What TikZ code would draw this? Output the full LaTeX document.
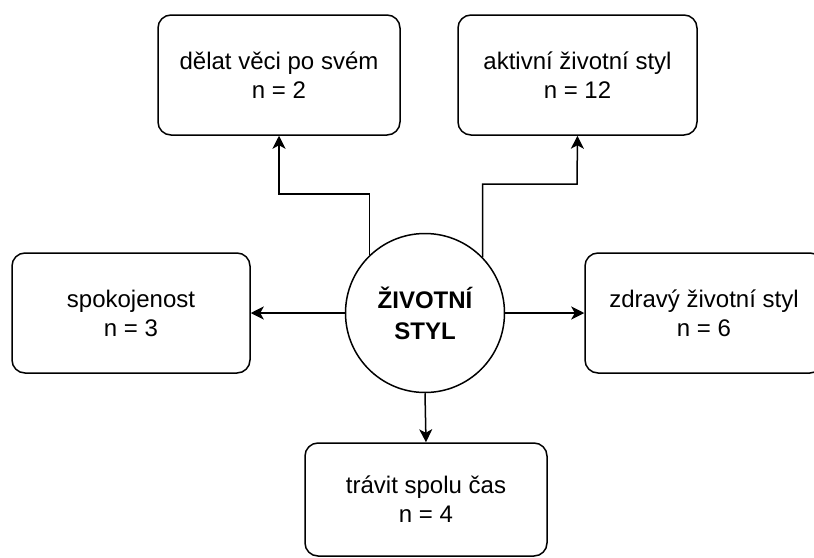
\documentclass[tikz,border=0pt]{standalone}
\usepackage{fontspec}
\setmainfont{Liberation Sans}
\usetikzlibrary{arrows.meta}
\begin{document}
\begin{tikzpicture}[x=1pt,y=-1pt,
  box/.style={draw, line width=1.5pt, rounded corners=13pt, align=center,
    font=\fontsize{24}{29}\selectfont, inner sep=0pt},
  hub/.style={draw, circle, line width=1.5pt, minimum size=159pt, inner sep=0pt,
    align=center, font=\fontsize{24}{31}\selectfont\bfseries},
  conn/.style={line width=1.5pt, -{Stealth[length=13pt,width=13pt,inset=3.5pt]}}]
\useasboundingbox (0,0) rectangle (814,557);
\clip (0,0) rectangle (814,557);
\fill[white] (0,0) rectangle (814,557);
\node[hub] (c) at (425,313) {ŽIVOTNÍ\\STYL};
\node[box, minimum width=242pt, minimum height=120pt] (tl) at (279,75) {dělat věci po svém\\n = 2};
\node[box, minimum width=239pt, minimum height=120pt] (tr) at (577.5,75) {aktivní životní styl\\n = 12};
\node[box, minimum width=238pt, minimum height=120pt] (lf) at (131,313) {spokojenost\\n = 3};
\node[box, minimum width=238pt, minimum height=120pt] (rt) at (704,313) {zdravý životní styl\\n = 6};
\node[box, minimum width=242pt, minimum height=113pt] (bt) at (426,499.5) {trávit spolu čas\\n = 4};
\coordinate (k1) at (279,194);
\coordinate (k2) at (577,184);
\draw[conn] (c.134.4) |- (k1) -- (tl.south);
\draw[conn] (c.44.6) |- (k2) -- (tr.south);
\draw[conn] (c.west) -- (lf.east);
\draw[conn] (c.east) -- (rt.west);
\draw[conn] (c.south) -- (bt.north);
\end{tikzpicture}
\end{document}
